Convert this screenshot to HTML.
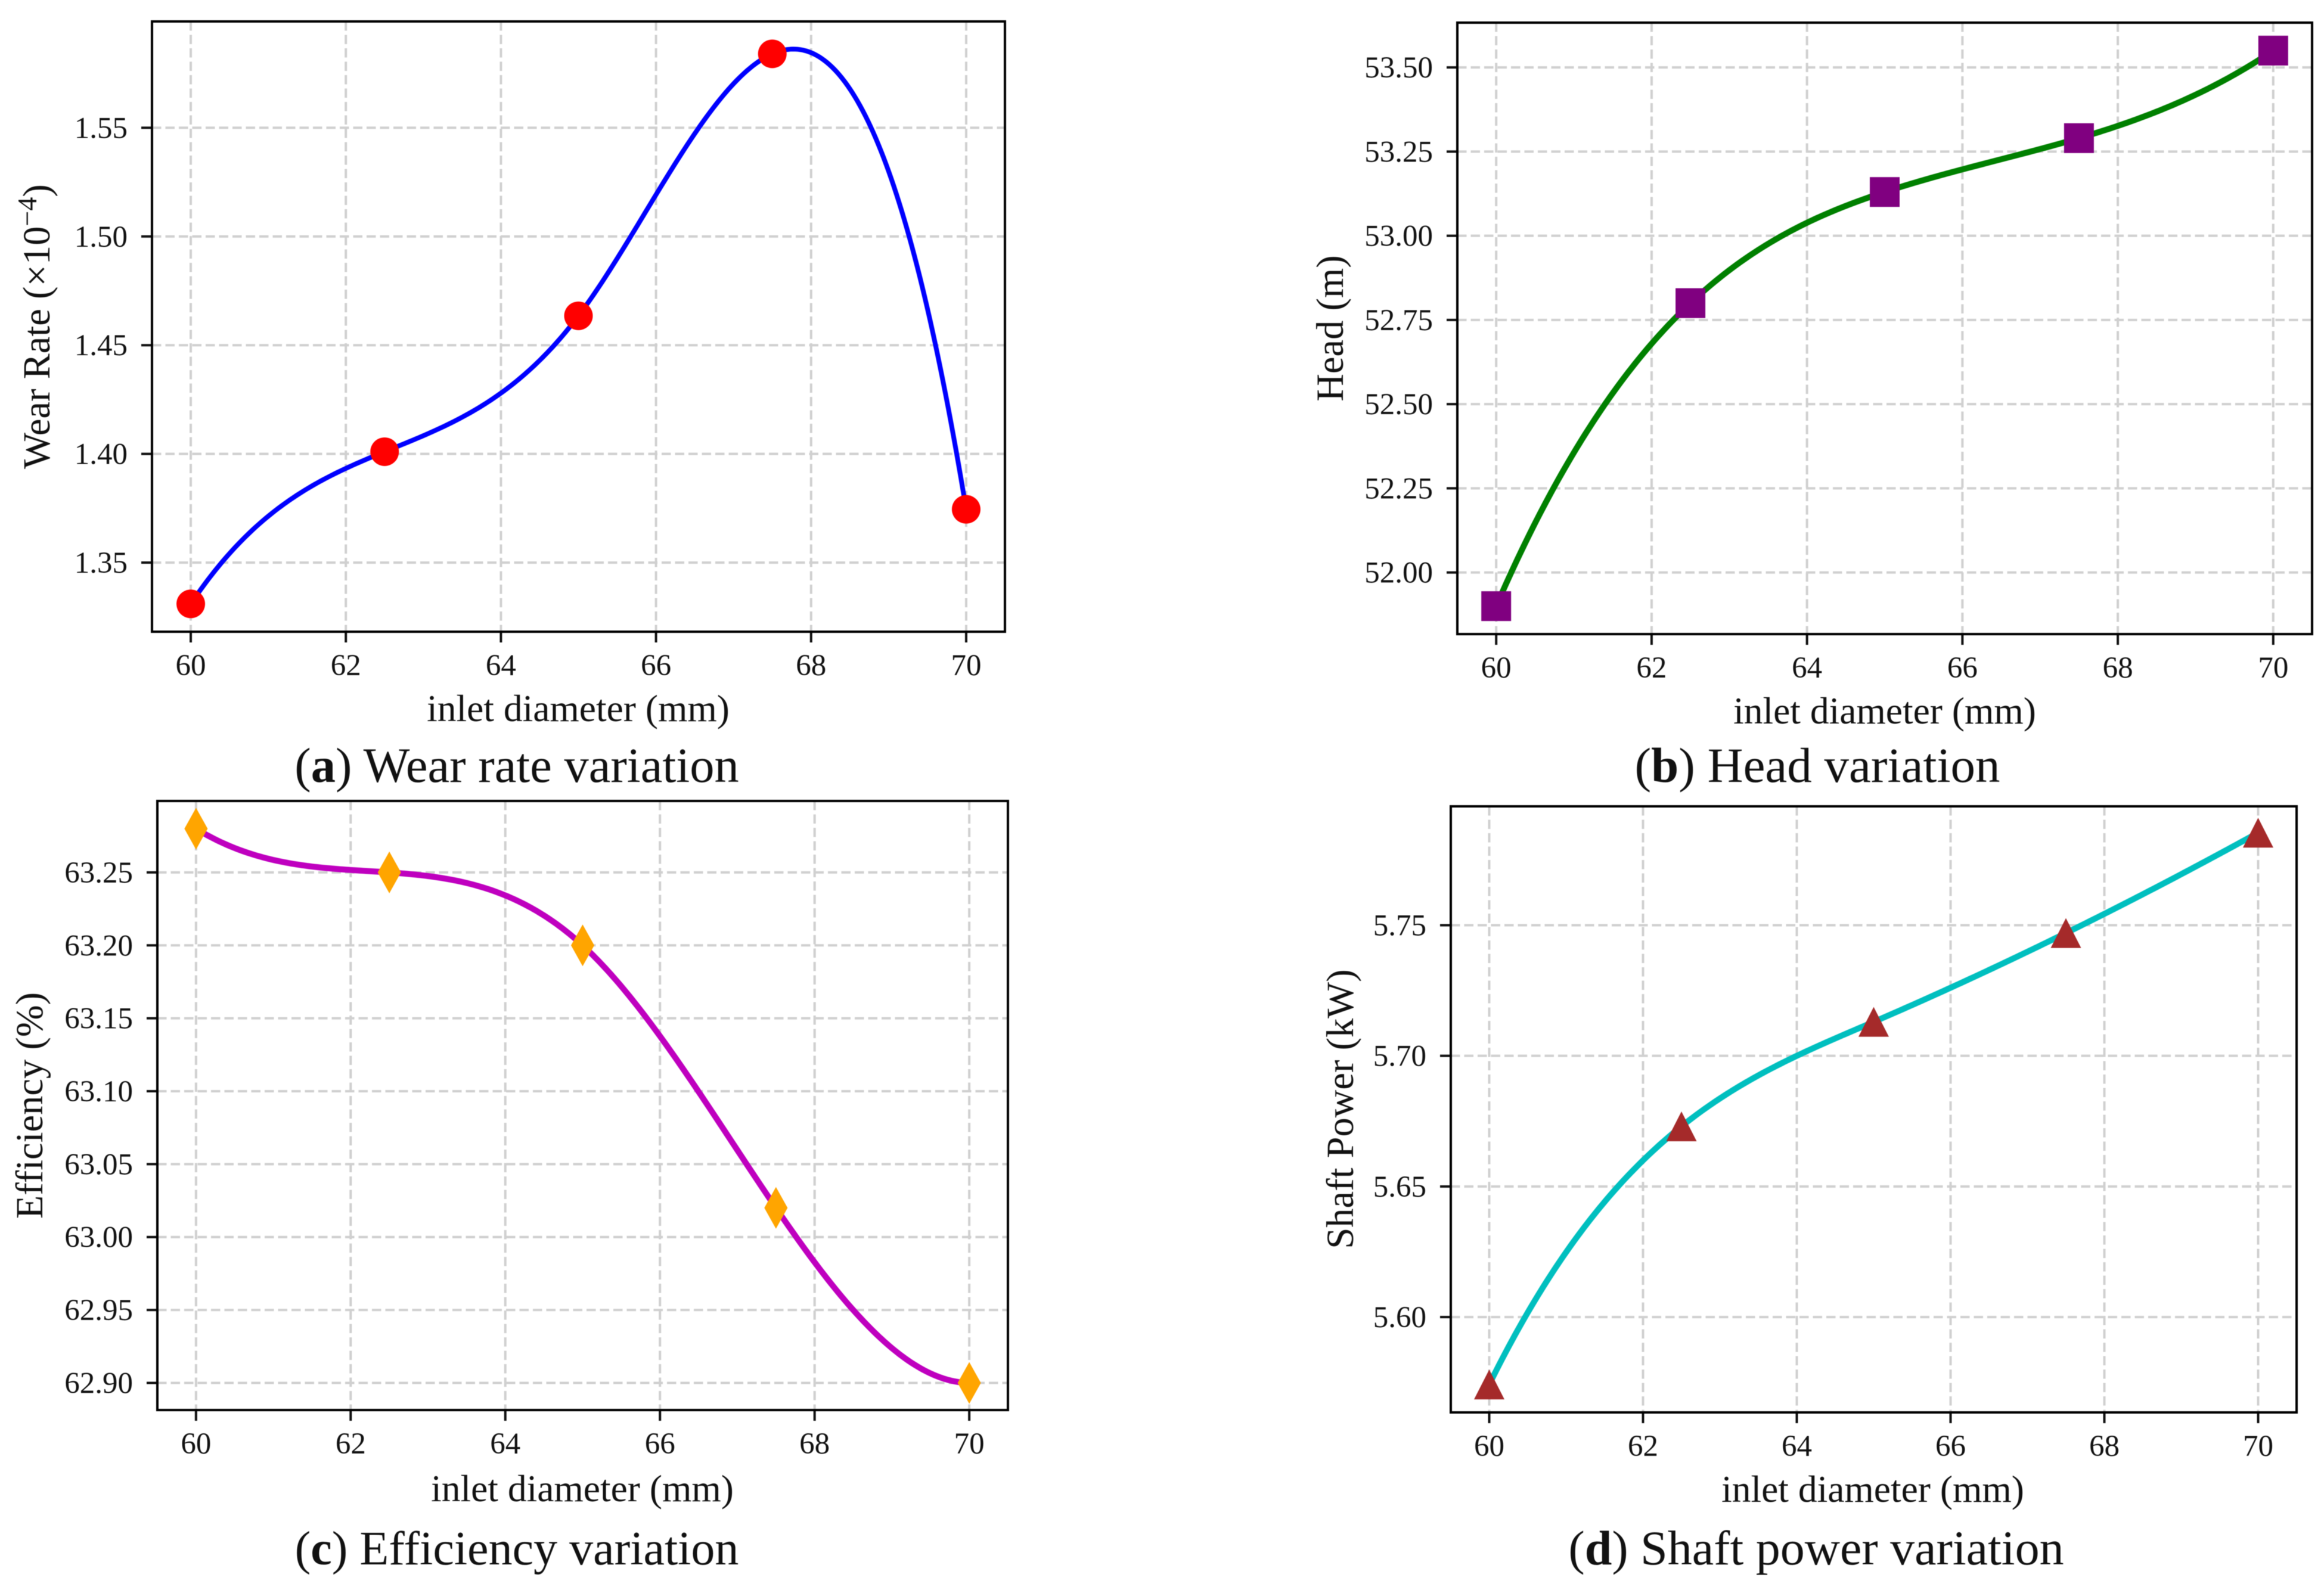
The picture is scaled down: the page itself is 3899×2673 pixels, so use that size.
<!DOCTYPE html>
<html lang="en">
<head>
<meta charset="utf-8">
<title>Inlet diameter variation charts</title>
<style>
html,body{margin:0;padding:0;background:#fff;}
svg{display:block;filter:blur(0.6px);}
text{font-family:"Liberation Serif","Times New Roman",serif;fill:#111;}
.tick{font-size:51px;}
.axis{font-size:63.5px;}
.ylab{font-size:64.5px;}
.cap{font-size:82px;}
</style>
</head>
<body>
<svg id="fig" xmlns="http://www.w3.org/2000/svg" width="3899" height="2673" viewBox="0 0 3899 2673">
  <rect x="0" y="0" width="3899" height="2673" fill="#fff"/>

  <text class="ylab" text-anchor="middle" transform="translate(83,548) rotate(-90)">Wear Rate (×10<tspan dy="-22" font-size="46">−4</tspan><tspan dy="22">)</tspan></text>
  <text class="axis" text-anchor="middle" x="970" y="1210">inlet diameter (mm)</text>
  <text class="cap" style="font-size:82.5px" text-anchor="middle" x="867" y="1312">(<tspan font-weight="bold">a</tspan>) Wear rate variation</text>

  <text class="ylab" text-anchor="middle" transform="translate(2253,551) rotate(-90)">Head (m)</text>
  <text class="axis" text-anchor="middle" x="3162" y="1214">inlet diameter (mm)</text>
  <text class="cap" style="font-size:83px" text-anchor="middle" x="3049" y="1312">(<tspan font-weight="bold">b</tspan>) Head variation</text>

  <text class="ylab" text-anchor="middle" transform="translate(71,1855) rotate(-90)">Efficiency (%)</text>
  <text class="axis" text-anchor="middle" x="977" y="2519">inlet diameter (mm)</text>
  <text class="cap" style="font-size:80px" text-anchor="middle" x="867" y="2625">(<tspan font-weight="bold">c</tspan>) Efficiency variation</text>

  <text class="ylab" text-anchor="middle" transform="translate(2270,1861) rotate(-90)">Shaft Power (kW)</text>
  <text class="axis" text-anchor="middle" x="3142" y="2520">inlet diameter (mm)</text>
  <text class="cap" style="font-size:82px" text-anchor="middle" x="3047" y="2625">(<tspan font-weight="bold">d</tspan>) Shaft power variation</text>
</svg>
<script>
const inletDiameters = [60, 62.5, 65, 67.5, 70];
const xTickValues = [60, 62, 64, 66, 68, 70];

const wearRateValues = [1.331, 1.401, 1.4635, 1.584, 1.3745];
const wearTickValues = [1.35, 1.40, 1.45, 1.50, 1.55];
const wearDomain = [1.3182, 1.5989];

const headValues = [51.90, 52.80, 53.13, 53.29, 53.55];
const headTickValues = [52.00, 52.25, 52.50, 52.75, 53.00, 53.25, 53.50];
const headDomain = [51.817, 53.633];

const efficiencyValues = [63.28, 63.25, 63.20, 63.02, 62.90];
const efficiencyTickValues = [62.90, 62.95, 63.00, 63.05, 63.10, 63.15, 63.20, 63.25];
const efficiencyDomain = [62.8814, 63.299];

const powerValues = [5.5742, 5.673, 5.713, 5.747, 5.7854];
const powerTickValues = [5.60, 5.65, 5.70, 5.75];
const powerDomain = [5.5635, 5.7955];

const xDomain = [59.5, 70.5];

const panels = [
  { id: 'wear', box: [255, 1686, 36, 1060], ys: wearRateValues, ticks: wearTickValues, dom: wearDomain, line: '#0000ff', lw: 8, marker: 'circle', fill: '#ff0000' },
  { id: 'head', box: [2445, 3879, 38, 1064], ys: headValues, ticks: headTickValues, dom: headDomain, line: '#008000', lw: 10, marker: 'square', fill: '#800080' },
  { id: 'efficiency', box: [264, 1691, 1344, 2366], ys: efficiencyValues, ticks: efficiencyTickValues, dom: efficiencyDomain, line: '#bf00bf', lw: 10, marker: 'diamond', fill: '#ffa500' },
  { id: 'power', box: [2434, 3853, 1353, 2370], ys: powerValues, ticks: powerTickValues, dom: powerDomain, line: '#00bfbf', lw: 10, marker: 'triangle', fill: '#a52a2a' }
];

const SVGNS = 'http://www.w3.org/2000/svg';
const fig = document.getElementById('fig');

function make(tag, attrs) {
  const el = document.createElementNS(SVGNS, tag);
  for (const k in attrs) el.setAttribute(k, attrs[k]);
  return el;
}

// Not-a-knot cubic spline through the data points: returns an evaluator.
function spline(xs, ys) {
  const n = xs.length;
  const h = [];
  for (let i = 0; i < n - 1; i++) h.push(xs[i + 1] - xs[i]);
  const A = [];
  for (let i = 0; i < n; i++) A.push(new Array(n + 1).fill(0));
  A[0][0] = h[1]; A[0][1] = -(h[0] + h[1]); A[0][2] = h[0];
  A[n - 1][n - 3] = h[n - 2]; A[n - 1][n - 2] = -(h[n - 3] + h[n - 2]); A[n - 1][n - 1] = h[n - 3];
  for (let i = 1; i < n - 1; i++) {
    A[i][i - 1] = h[i - 1];
    A[i][i] = 2 * (h[i - 1] + h[i]);
    A[i][i + 1] = h[i];
    A[i][n] = 6 * ((ys[i + 1] - ys[i]) / h[i] - (ys[i] - ys[i - 1]) / h[i - 1]);
  }
  for (let c = 0; c < n; c++) {
    let p = c;
    for (let r = c + 1; r < n; r++) if (Math.abs(A[r][c]) > Math.abs(A[p][c])) p = r;
    const tmp = A[c]; A[c] = A[p]; A[p] = tmp;
    for (let r = 0; r < n; r++) {
      if (r === c) continue;
      const f = A[r][c] / A[c][c];
      for (let k = c; k <= n; k++) A[r][k] -= f * A[c][k];
    }
  }
  const M = A.map(function (row, i) { return row[n] / row[i]; });
  return function (x) {
    let i = 0;
    while (i < n - 2 && x > xs[i + 1]) i++;
    const a = xs[i + 1] - x, b = x - xs[i], d = h[i];
    return M[i] * a * a * a / (6 * d) + M[i + 1] * b * b * b / (6 * d) +
      (ys[i] / d - M[i] * d / 6) * a + (ys[i + 1] / d - M[i + 1] * d / 6) * b;
  };
}

panels.forEach(function (p) {
  const L = p.box[0], R = p.box[1], T = p.box[2], B = p.box[3];
  const xScale = function (v) { return L + (v - xDomain[0]) / (xDomain[1] - xDomain[0]) * (R - L); };
  const yScale = function (v) { return B - (v - p.dom[0]) / (p.dom[1] - p.dom[0]) * (B - T); };
  const gridStyle = { stroke: '#d0d0d0', 'stroke-width': 4, 'stroke-dasharray': '15.5 7', fill: 'none' };

  p.ticks.forEach(function (v) {
    const y = yScale(v);
    const g = make('line', Object.assign({ x1: L, x2: R, y1: y, y2: y }, gridStyle));
    
    
    fig.appendChild(g);
    const t = make('line', { x1: L - 18, x2: L, y1: y, y2: y, stroke: '#111', 'stroke-width': 4 });
    
    
    fig.appendChild(t);
    const lab = make('text', { x: L - 41, y: y + 17, 'text-anchor': 'end', class: 'tick' });
    
    
    lab.textContent = v.toFixed(2);
    fig.appendChild(lab);
  });

  xTickValues.forEach(function (v) {
    const x = xScale(v);
    const g = make('line', Object.assign({ x1: x, x2: x, y1: T, y2: B }, gridStyle));
    
    
    fig.appendChild(g);
    const t = make('line', { x1: x, x2: x, y1: B, y2: B + 18, stroke: '#111', 'stroke-width': 4 });
    
    
    fig.appendChild(t);
    const lab = make('text', { x: x, y: B + 73, 'text-anchor': 'middle', class: 'tick' });
    
    
    lab.textContent = String(v);
    fig.appendChild(lab);
  });

  const f = spline(inletDiameters, p.ys);
  const x0 = inletDiameters[0], x1 = inletDiameters[inletDiameters.length - 1];
  let d = '';
  for (let i = 0; i <= 300; i++) {
    const xv = x0 + (x1 - x0) * i / 300;
    d += (i ? 'L' : 'M') + xScale(xv).toFixed(2) + ' ' + yScale(f(xv)).toFixed(2);
  }
  const path = make('path', { d: d, fill: 'none', stroke: p.line, 'stroke-width': p.lw, 'stroke-linejoin': 'round' });
  
  
  fig.appendChild(path);

  p.ys.forEach(function (v, i) {
    const cx = xScale(inletDiameters[i]), cy = yScale(v);
    let m;
    if (p.marker === 'circle') {
      m = make('circle', { cx: cx, cy: cy, r: 24, fill: p.fill });
    } else if (p.marker === 'square') {
      m = make('rect', { x: cx - 25, y: cy - 25, width: 50, height: 50, fill: p.fill });
    } else if (p.marker === 'diamond') {
      m = make('polygon', { points: [cx, cy - 35, cx + 19.5, cy, cx, cy + 35, cx - 19.5, cy].join(','), fill: p.fill });
    } else {
      m = make('polygon', { points: [cx, cy - 25, cx + 25.5, cy + 25, cx - 25.5, cy + 25].join(','), fill: p.fill });
    }
    
    
    fig.appendChild(m);
  });

  const frame = make('rect', { x: L, y: T, width: R - L, height: B - T, fill: 'none', stroke: '#000', 'stroke-width': 4 });
  
  
  fig.appendChild(frame);
});
</script>
</body>
</html>
